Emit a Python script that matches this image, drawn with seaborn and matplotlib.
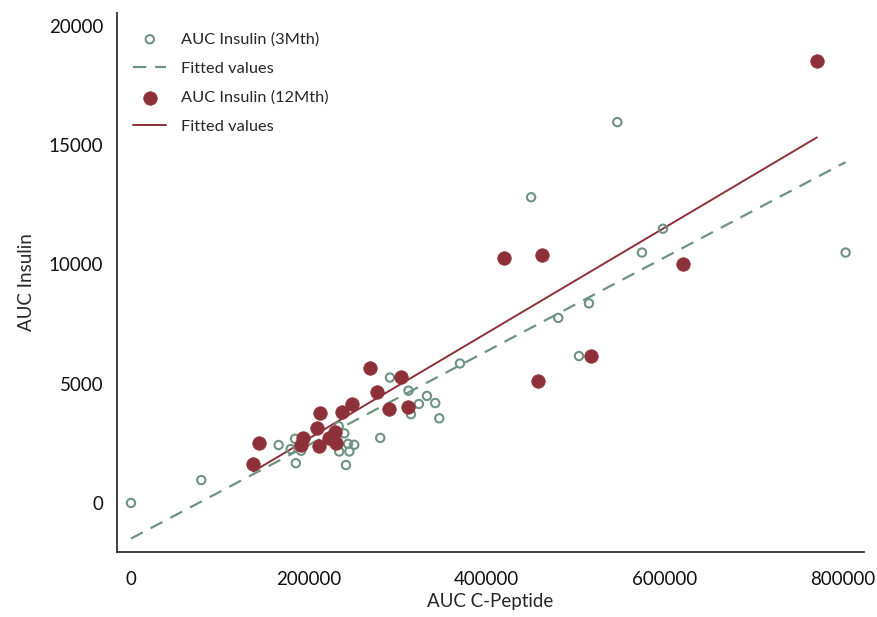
import numpy as np
import pandas as pd
import matplotlib
matplotlib.use("Agg")
import matplotlib.pyplot as plt
import seaborn as sns

# AUC C-Peptide / AUC Insulin at 3 months (hollow markers)
cpep_3m = [0, 79000, 166000, 184500, 179500, 185300, 191300, 233500, 239800, 244000,
           251000, 234000, 245500, 241700, 280200, 291100, 312000, 314700, 323700,
           332700, 342000, 346600, 369800, 449800, 480300, 503600, 514800, 546700,
           574400, 598000, 803300]
ins_3m = [0, 960, 2430, 2690, 2260, 1670, 2190, 3220, 2920, 2480,
          2440, 2160, 2160, 1590, 2730, 5260, 4710, 3720, 4150,
          4490, 4190, 3550, 5850, 12820, 7760, 6160, 8370, 15970,
          10500, 11500, 10500]

# AUC C-Peptide / AUC Insulin at 12 months (filled markers)
cpep_12m = [137500, 143800, 193300, 191100, 209400, 212800, 211700, 222600, 229300,
            230400, 237200, 248800, 268600, 276100, 303500, 290300, 311600, 419700,
            462200, 620000, 516700, 457500, 771000]
ins_12m = [1650, 2520, 2740, 2420, 3160, 3770, 2400, 2740, 2980,
           2500, 3820, 4140, 5650, 4640, 5280, 3930, 4040, 10270,
           10400, 10020, 6180, 5110, 18550]

x_ticks = [0, 200000, 400000, 600000, 800000]
y_ticks = [0, 5000, 10000, 15000, 20000]
labels = ["AUC Insulin (3Mth)", "Fitted values", "AUC Insulin (12Mth)", "Fitted values"]

df3 = pd.DataFrame({"x": cpep_3m, "y": ins_3m})
df12 = pd.DataFrame({"x": cpep_12m, "y": ins_12m})

GREEN = "#6f9282"
RED = "#8e3039"

sns.set_style("white")
plt.rcParams["font.family"] = ["Lato", "DejaVu Sans"]

fig = plt.figure(figsize=(8.77, 6.17), dpi=100)
ax = fig.add_axes([117/877, 1 - 552/617, (864 - 117)/877, (552 - 13)/617])

sns.scatterplot(data=df3, x="x", y="y", ax=ax, marker="o", s=36,
                facecolors="none", edgecolor=GREEN, linewidth=1.5,
                label=labels[0], zorder=3)
sns.regplot(data=df3, x="x", y="y", ax=ax, scatter=False, ci=None, truncate=True,
            label=labels[1],
            line_kws=dict(color=GREEN, linestyle=(0, (6, 4)), linewidth=1.6, zorder=2))
sns.scatterplot(data=df12, x="x", y="y", ax=ax, marker="o", s=95,
                color=RED, edgecolor=RED, linewidth=0.5,
                label=labels[2], zorder=4)
sns.regplot(data=df12, x="x", y="y", ax=ax, scatter=False, ci=None, truncate=True,
            label=labels[3],
            line_kws=dict(color=RED, linestyle="-", linewidth=1.4, zorder=2))

ax.set_xlim(-15700, 824000)
ax.set_ylim(-2055, 20545)
ax.set_xticks(x_ticks)
ax.set_yticks(y_ticks)
ax.set_xticklabels([str(v) for v in x_ticks])
ax.set_yticklabels([str(v) for v in y_ticks])
ax.set_xlabel("AUC C-Peptide", fontsize=13.5, labelpad=3)
ax.set_ylabel("AUC Insulin", fontsize=13.5, labelpad=10)

for side in ["top", "right"]:
    ax.spines[side].set_visible(False)
for side in ["left", "bottom"]:
    ax.spines[side].set_color("#333333")
    ax.spines[side].set_linewidth(1.3)
ax.tick_params(axis="both", direction="out", length=6, width=1.0, color="#333333",
               labelsize=13.5, labelcolor="#111111")
ax.tick_params(axis="x", pad=8)
ax.tick_params(axis="y", pad=4)

handles, labs = ax.get_legend_handles_labels()
leg = ax.legend(handles=handles, labels=labels, loc="upper left", frameon=False,
                fontsize=11.8, handlelength=2.0, handletextpad=0.9, labelspacing=0.9,
                bbox_to_anchor=(0.0, 0.995), borderaxespad=0.6, markerscale=1.0)

fig.savefig("out.png", dpi=100, facecolor="white")
